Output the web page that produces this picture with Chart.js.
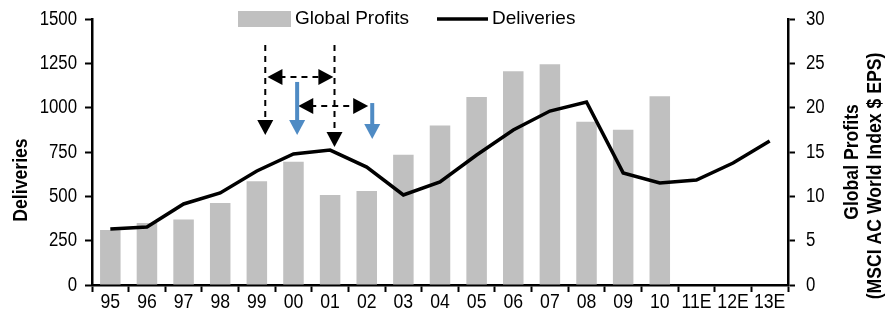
<!DOCTYPE html>
<html>
<head>
<meta charset="utf-8">
<script src="https://cdn.jsdelivr.net/npm/chart.js@4.4.1/dist/chart.umd.min.js"></script>
<style>
  html, body { margin: 0; padding: 0; background: #fff; }
  #wrap { width: 889px; height: 316px; }
</style>
</head>
<body>
<div id="wrap"><canvas id="chart" width="889" height="316"></canvas></div>
<script>
const years = ['95', '96', '97', '98', '99', '00', '01', '02', '03', '04', '05', '06', '07', '08', '09', '10', '11E', '12E', '13E'];
const deliveries = [316, 327, 457, 519, 643, 739, 761, 665, 508, 581, 733, 874, 981, 1032, 632, 575, 592, 688, 812];
const globalProfits = [6.2, 7.0, 7.4, 9.25, 11.7, 13.9, 10.15, 10.6, 14.7, 18.0, 21.2, 24.1, 24.9, 18.4, 17.5, 21.3, null, null, null];

// annotation arrows, in category index / deliveries units
const arrows = [
  { x1: 4.23, y1: 1353, x2: 4.23, y2: 846, color: '#000', dashed: true, heads: 'end' },
  { x1: 6.12, y1: 1353, x2: 6.12, y2: 778, color: '#000', dashed: true, heads: 'end' },
  { x1: 4.29, y1: 1173, x2: 6.09, y2: 1173, color: '#000', dashed: true, heads: 'both' },
  { x1: 5.13, y1: 1009, x2: 7.04, y2: 1009, color: '#000', dashed: true, heads: 'both' },
  { x1: 5.1, y1: 1145, x2: 5.1, y2: 846, color: '#4f8bc4', dashed: false, heads: 'end' },
  { x1: 7.15, y1: 1026, x2: 7.15, y2: 823, color: '#4f8bc4', dashed: false, heads: 'end' }
];

const FAMILY = '"Liberation Sans", Arial, sans-serif';
const SQUEEZE = 0.84; // the original uses a condensed face
const hiddenTickFont = { family: FAMILY, size: 8 };

function drawHead(ctx, x, y, angle, color) {
  const len = 15, half = 8;
  ctx.save();
  ctx.translate(x, y);
  ctx.rotate(angle);
  ctx.beginPath();
  ctx.moveTo(0, 0);
  ctx.lineTo(-len, -half);
  ctx.lineTo(-len, half);
  ctx.closePath();
  ctx.fillStyle = color;
  ctx.fill();
  ctx.restore();
}

function narrowText(ctx, text, x, y, align, rotate) {
  ctx.save();
  ctx.translate(x, y);
  if (rotate) ctx.rotate(-Math.PI / 2);
  ctx.scale(SQUEEZE, 1);
  ctx.textAlign = align;
  ctx.textBaseline = 'middle';
  ctx.fillText(text, 0, 0);
  ctx.restore();
}

const extras = {
  id: 'extras',
  afterDraw(chart) {
    const ctx = chart.ctx;
    const xs = chart.scales.x, ys = chart.scales.y, ys1 = chart.scales.y1;
    const area = chart.chartArea;

    // arrows
    arrows.forEach(a => {
      const px1 = xs.getPixelForValue(a.x1), py1 = ys.getPixelForValue(a.y1);
      const px2 = xs.getPixelForValue(a.x2), py2 = ys.getPixelForValue(a.y2);
      const ang = Math.atan2(py2 - py1, px2 - px1);
      const inset = 12;
      ctx.save();
      ctx.strokeStyle = a.color;
      ctx.lineWidth = a.dashed ? 2 : 4;
      ctx.setLineDash(a.dashed ? [6, 5] : []);
      ctx.beginPath();
      const sx = a.heads === 'both' ? px1 + Math.cos(ang) * inset : px1;
      const sy = a.heads === 'both' ? py1 + Math.sin(ang) * inset : py1;
      ctx.moveTo(sx, sy);
      ctx.lineTo(px2 - Math.cos(ang) * inset, py2 - Math.sin(ang) * inset);
      ctx.stroke();
      ctx.restore();
      drawHead(ctx, px2, py2, ang, a.color);
      if (a.heads === 'both') drawHead(ctx, px1, py1, ang + Math.PI, a.color);
    });

    ctx.save();
    ctx.fillStyle = '#000';

    // tick labels, condensed
    ctx.font = '21px ' + FAMILY;
    xs.ticks.forEach((t, i) => narrowText(ctx, years[i], xs.getPixelForTick(i), area.bottom + 17, 'center'));
    ctx.font = '20px ' + FAMILY;
    ys.ticks.forEach((t, i) => narrowText(ctx, String(t.value), 77, ys.getPixelForTick(i), 'right'));
    ys1.ticks.forEach((t, i) => narrowText(ctx, String(t.value), 806, ys1.getPixelForTick(i), 'left'));

    // legend
    ctx.font = '19px ' + FAMILY;
    ctx.textBaseline = 'middle';
    ctx.fillStyle = '#c0c0c0';
    ctx.fillRect(238, 11, 53, 16);
    ctx.fillStyle = '#000';
    ctx.fillText('Global Profits', 295, 19);
    ctx.strokeStyle = '#000';
    ctx.lineWidth = 3.5;
    ctx.beginPath();
    ctx.moveTo(437, 19);
    ctx.lineTo(488, 19);
    ctx.stroke();
    ctx.fillText('Deliveries', 492, 19);

    // axis titles
    ctx.font = 'bold 21px ' + FAMILY;
    narrowText(ctx, 'Deliveries', 21, 180, 'center', true);
    narrowText(ctx, 'Global Profits', 852, 162, 'center', true);
    narrowText(ctx, '(MSCI AC World Index $ EPS)', 875, 176, 'center', true);
    ctx.restore();
  }
};

new Chart(document.getElementById('chart'), {
  data: {
    labels: years,
    datasets: [
      {
        type: 'line',
        label: 'Deliveries',
        data: deliveries,
        yAxisID: 'y',
        borderColor: '#000',
        borderWidth: 3.5,
        pointRadius: 0,
        tension: 0,
        order: 0
      },
      {
        type: 'bar',
        label: 'Global Profits',
        data: globalProfits,
        yAxisID: 'y1',
        backgroundColor: '#c0c0c0',
        barPercentage: 0.56,
        categoryPercentage: 1,
        order: 1
      }
    ]
  },
  options: {
    responsive: false,
    animation: false,
    layout: { padding: { top: 19, bottom: 0, left: 0, right: 0 } },
    plugins: {
      legend: { display: false },
      tooltip: { enabled: false }
    },
    scales: {
      x: {
        offset: true,
        grid: { display: true, drawOnChartArea: false, offset: true, tickLength: 7, tickColor: '#000', tickWidth: 2 },
        border: { color: '#000', width: 2.5 },
        ticks: { color: 'rgba(0,0,0,0)', font: hiddenTickFont, maxRotation: 0, autoSkip: false },
        afterFit(scale) { scale.height = 31; }
      },
      y: {
        position: 'left',
        min: 0,
        max: 1500,
        grid: { drawOnChartArea: false, tickLength: 7, tickColor: '#000', tickWidth: 2 },
        border: { color: '#000', width: 2.5 },
        ticks: { stepSize: 250, color: 'rgba(0,0,0,0)', font: hiddenTickFont },
        afterFit(scale) { scale.width = 92; }
      },
      y1: {
        position: 'right',
        min: 0,
        max: 30,
        grid: { drawOnChartArea: false, tickLength: 7, tickColor: '#000', tickWidth: 2 },
        border: { color: '#000', width: 2.5 },
        ticks: { stepSize: 5, color: 'rgba(0,0,0,0)', font: hiddenTickFont },
        afterFit(scale) { scale.width = 101; }
      }
    }
  },
  plugins: [extras]
});
</script>
</body>
</html>
